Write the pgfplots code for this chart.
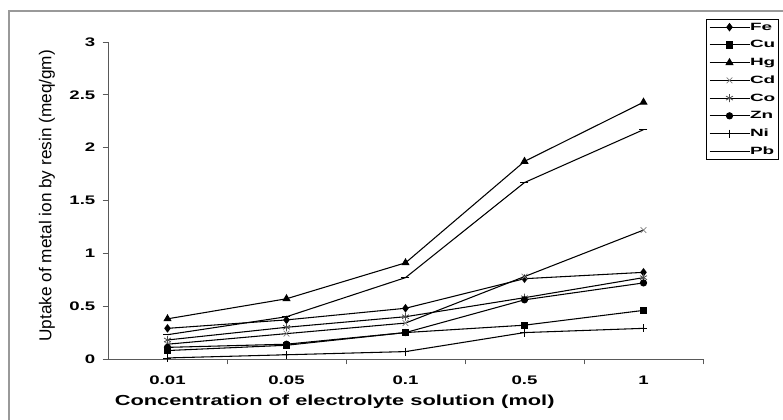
\documentclass[border=0pt]{standalone}
\usepackage{fontspec}
\setmainfont{Liberation Sans}
\newfontfamily\tickfont[FakeStretch=1.5]{Liberation Sans}
\newfontfamily\legfont[FakeStretch=1.8]{Liberation Sans}
\usepackage{pgfplots}
\pgfplotsset{compat=1.18}

\pgfplotstableread{
x   Fe   Cu   Hg   Cd   Co   Zn   Ni   Pb
0   0.29 0.08 0.38 0.14 0.18 0.11 0.01 0.23
1   0.37 0.13 0.57 0.24 0.30 0.14 0.04 0.40
2   0.48 0.25 0.91 0.34 0.40 0.25 0.07 0.77
3   0.76 0.32 1.87 0.78 0.58 0.56 0.25 1.67
4   0.82 0.46 2.43 1.22 0.77 0.72 0.29 2.17
}\uptake

\begin{document}
\begin{tikzpicture}
\useasboundingbox (0,0) rectangle (587.25pt,315pt);
\draw[gray!80, line width=0.8pt] (6.75pt,-5pt) rectangle (600pt,306.75pt);
\begin{axis}[
  at={(81pt,45.75pt)}, anchor=south west,
  scale only axis,
  width=446.25pt, height=237.75pt,
  xmin=-0.5, xmax=4.5,
  ymin=0, ymax=3,
  axis lines=left,
  axis line style={black!65, line width=0.7pt, -},
  xtick={0,1,2,3,4},
  xticklabels={0.01,0.05,0.1,0.5,1},
  major x tick style={draw=none},
  minor xtick={0.5,1.5,2.5,3.5,4.5},
  minor x tick style={black!65, line width=0.6pt},
  minor tick length=4pt,
  ytick={0,0.5,1,1.5,2,2.5,3},
  yticklabels={0,0.5,1,1.5,2,2.5,3},
  major y tick style={black!65, line width=0.6pt},
  major tick length=4pt,
  tick align=outside,
  /pgf/number format/assume math mode=true,
  ticklabel style={font=\tickfont\bfseries\fontsize{9.3}{10}\selectfont},
  xticklabel style={yshift=-5pt},
  yticklabel style={xshift=-2pt},
  xlabel={Concentration of electrolyte solution (mol)},
  xlabel style={at={(axis description cs:0.381,-0.136)}, anchor=center,
    font=\tickfont\bfseries\fontsize{10.9}{12}\selectfont},
  ylabel={Uptake of metal ion by resin (meq/gm)},
  ylabel style={at={(axis description cs:-0.1025,0.515)}, anchor=center, rotate=0,
    font=\fontsize{12.9}{14}\selectfont},
  legend style={at={(axis description cs:1.0050,1.072)}, anchor=north west,
    draw=black, line width=0.5pt, font=\legfont\bfseries\fontsize{7.9}{9}\selectfont,
    inner xsep=2pt, inner ysep=2pt, row sep=5.8pt, cells={anchor=west},
    nodes={inner sep=0pt, text height=6pt, text depth=1.5pt}},
  legend image code/.code={
    \draw[mark repeat=2,mark phase=2,#1] plot coordinates {(0pt,0pt) (15pt,0pt) (30pt,0pt)};},
  every axis plot/.append style={black, line width=0.8pt},
]
\addplot[mark=diamond*, mark size=2.6pt] table[x=x,y=Fe] {\uptake};
\addlegendentry{Fe}
\addplot[mark=square*, mark size=2.3pt] table[x=x,y=Cu] {\uptake};
\addlegendentry{Cu}
\addplot[mark=triangle*, mark size=2.8pt] table[x=x,y=Hg] {\uptake};
\addlegendentry{Hg}
\addplot[mark=x, mark size=3pt, mark options={gray, line width=0.6pt}] table[x=x,y=Cd] {\uptake};
\addlegendentry{Cd}
\addplot[mark=asterisk, mark size=3pt, mark options={black!70, line width=0.6pt}] table[x=x,y=Co] {\uptake};
\addlegendentry{Co}
\addplot[mark=*, mark size=2.3pt] table[x=x,y=Zn] {\uptake};
\addlegendentry{Zn}
\addplot[mark=+, mark size=3pt, mark options={line width=0.6pt}] table[x=x,y=Ni] {\uptake};
\addlegendentry{Ni}
\addplot[mark=-, mark size=3pt, mark options={line width=1pt}] table[x=x,y=Pb] {\uptake};
\addlegendentry{Pb}
\end{axis}
\end{tikzpicture}
\end{document}
